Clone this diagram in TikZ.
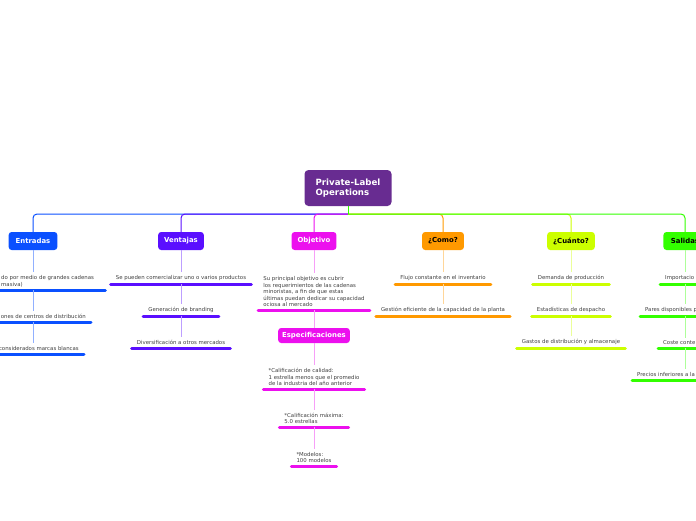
\documentclass[tikz,border=0pt]{standalone}
\usepackage{fontspec}
\setmainfont{DejaVu Sans}

\definecolor{rootpurple}{RGB}{104,44,145}
\definecolor{entblue}{RGB}{10,80,255}
\definecolor{venviolet}{RGB}{90,15,255}
\definecolor{objmagenta}{RGB}{236,16,238}
\definecolor{comoorange}{RGB}{255,153,0}
\definecolor{cuanlime}{RGB}{204,255,0}
\definecolor{salgreen}{RGB}{51,255,0}
\definecolor{textgray}{RGB}{64,64,64}

\tikzset{
  topic/.style={rounded corners=3pt, minimum height=18pt, inner xsep=6pt,
    font=\fontsize{6.9}{8}\selectfont\bfseries},
  item/.style={inner xsep=5pt, inner ysep=3pt, text=textgray,
    font=\fontsize{5.4}{6.5}\selectfont},
  bus/.style={line width=1pt, rounded corners=4pt},
  stem/.style={line width=0.9pt},
  bar/.style={line width=3pt, line cap=round},
}

% underline of an item
\newcommand{\itembar}[2]{\draw[bar, #2] (#1.south west) -- (#1.south east);}

\begin{document}
\begin{tikzpicture}[x=1pt, y=-1pt]
  \useasboundingbox (0,0) rectangle (696,520);
  \clip (0,0) rectangle (696,520);

  % Root
  \node[fill=rootpurple, text=white, rounded corners=4pt, align=left,
        minimum width=87pt, minimum height=36pt,
        font=\fontsize{8.6}{10.5}\selectfont\bfseries] (root) at (348,188)
        {Private-Label\\Operations};
  \coordinate (hub) at (348,214);

  % Topics
  \node[topic, fill=entblue, text=white, inner xsep=7pt] (entradas) at (33,241) {Entradas};
  \node[topic, fill=venviolet, text=white] (ventajas) at (181,241) {Ventajas};
  \node[topic, fill=objmagenta, text=white] (objetivo) at (314,241) {Objetivo};
  \node[topic, fill=comoorange] (como) at (443,241) {¿Como?};
  \node[topic, fill=cuanlime] (cuanto) at (571,241) {¿Cuánto?};
  \node[topic, fill=salgreen, inner xsep=7.5pt] (salidas) at (685,241) {Salidas};

  % Bus from root to topics
  \draw[bus, entblue] (hub) -| (entradas.north);
  \draw[bus, venviolet] (hub) -| (ventajas.north);
  \draw[bus, objmagenta] (hub) -| (objetivo.north);
  \draw[bus, comoorange] (hub) -| (como.north);
  \draw[bus, cuanlime] (hub) -| (cuanto.north);
  \draw[bus, salgreen] (hub) -| (salidas.north);
  \draw[line width=1pt, salgreen] (root.south) -- (hub);

  % Entradas
  \node[item, anchor=south west, text width=99pt, align=left] (e1) at (-4,290)
        {do por medio de grandes cadenas\\masiva)};
  \node[item, anchor=south east] (e2) at (91,322) {ones de centros de distribución};
  \node[item, anchor=south east] (e3) at (84,354) {considerados marcas blancas};
  \itembar{e1}{entblue} \itembar{e2}{entblue} \itembar{e3}{entblue}
  \draw[stem, entblue!45] (entradas.south) -- (entradas.south |- e1.north);
  \draw[stem, entblue!45] (entradas.south |- e1.south) -- (entradas.south |- e2.north);
  \draw[stem, entblue!45] (entradas.south |- e2.south) -- (entradas.south |- e3.north);

  % Ventajas
  \node[item, anchor=south] (v1) at (181,284) {Se pueden comercializar uno o varios productos};
  \node[item, anchor=south] (v2) at (181,316) {Generación de branding};
  \node[item, anchor=south] (v3) at (181,348) {Diversificación a otros mercados};
  \itembar{v1}{venviolet} \itembar{v2}{venviolet} \itembar{v3}{venviolet}
  \draw[stem, venviolet!40] (ventajas) -- (v1);
  \draw[stem, venviolet!40] (v1) -- (v2);
  \draw[stem, venviolet!40] (v2) -- (v3);

  % Objetivo
  \node[item, anchor=south, align=left] (o1) at (314,310)
        {Su principal objetivo es cubrir\\los requerimientos de las cadenas\\minoristas, a fin de que estas\\últimas puedan dedicar su capacidad\\ociosa al mercado};
  \node[topic, fill=objmagenta, text=white, minimum height=15pt, inner xsep=4pt]
        (espec) at (314,335.5) {Especificaciones};
  \node[item, anchor=south, align=left] (o2) at (314,389)
        {*Calificación de calidad:\\1 estrella menos que el promedio\\de la industria del año anterior};
  \node[item, anchor=south, align=left] (o3) at (314,427)
        {*Calificación máxima:\\5.0 estrellas};
  \node[item, anchor=south, align=left] (o4) at (314,466)
        {*Modelos:\\100 modelos};
  \itembar{o1}{objmagenta} \itembar{o2}{objmagenta}
  \itembar{o3}{objmagenta} \itembar{o4}{objmagenta}
  \draw[stem, objmagenta!40] (objetivo) -- (o1);
  \draw[stem, objmagenta!40] (o1) -- (espec);
  \draw[stem, objmagenta!40] (espec) -- (o2);
  \draw[stem, objmagenta!40] (o2) -- (o3);
  \draw[stem, objmagenta!40] (o3) -- (o4);

  % Como
  \node[item, anchor=south] (c1) at (443,284) {Flujo constante en el inventario};
  \node[item, anchor=south] (c2) at (443,316) {Gestión eficiente de la capacidad de la planta};
  \itembar{c1}{comoorange} \itembar{c2}{comoorange}
  \draw[stem, comoorange!40] (como) -- (c1);
  \draw[stem, comoorange!40] (c1) -- (c2);

  % Cuanto
  \node[item, anchor=south] (q1) at (571,284) {Demanda de producción};
  \node[item, anchor=south] (q2) at (571,316) {Estadísticas de despacho};
  \node[item, anchor=south] (q3) at (571,348) {Gastos de distribución y almacenaje};
  \itembar{q1}{cuanlime} \itembar{q2}{cuanlime} \itembar{q3}{cuanlime}
  \draw[stem, cuanlime!40] (cuanto) -- (q1);
  \draw[stem, cuanlime!40] (q1) -- (q2);
  \draw[stem, cuanlime!40] (q2) -- (q3);

  % Salidas
  \node[item, anchor=south west] (s1) at (660,284) {Importacio};
  \node[item, anchor=south west] (s2) at (640,316) {Pares disponibles p};
  \node[item, anchor=south west] (s3) at (658,348) {Coste conte};
  \node[item, anchor=south west] (s4) at (632,380) {Precios inferiores a la};
  \itembar{s1}{salgreen} \itembar{s2}{salgreen}
  \itembar{s3}{salgreen} \itembar{s4}{salgreen}
  \draw[stem, salgreen!40] (salidas.south) -- (salidas.south |- s1.north);
  \draw[stem, salgreen!40] (salidas.south |- s1.south) -- (salidas.south |- s2.north);
  \draw[stem, salgreen!40] (salidas.south |- s2.south) -- (salidas.south |- s3.north);
  \draw[stem, salgreen!40] (salidas.south |- s3.south) -- (salidas.south |- s4.north);
\end{tikzpicture}
\end{document}
